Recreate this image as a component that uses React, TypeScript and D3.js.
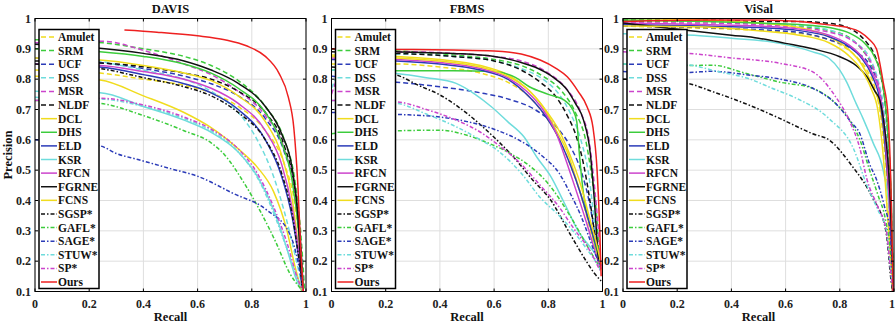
import React from 'react'
import * as d3 from 'd3'

type Pt = [number, number]

const titles = ['DAVIS', 'FBMS', 'ViSal']
const methods = ['Amulet', 'SRM', 'UCF', 'DSS', 'MSR', 'NLDF', 'DCL', 'DHS', 'ELD', 'KSR', 'RFCN', 'FGRNE', 'FCNS', 'SGSP*', 'GAFL*', 'SAGE*', 'STUW*', 'SP*', 'Ours']
const colors = ['#f0dc1e', '#3ccc3c', '#2b3bb8', '#6fdcdc', '#cc44cc', '#111', '#f0dc1e', '#3ccc3c', '#2b3bb8', '#6fdcdc', '#cc44cc', '#111', '#f0dc1e', '#111', '#3ccc3c', '#2b3bb8', '#6fdcdc', '#cc44cc', '#ee2020']
const styles = ['dash', 'dash', 'dash', 'dash', 'dash', 'dash', 'solid', 'solid', 'solid', 'solid', 'solid', 'solid', 'solid', 'dashdot', 'dashdot', 'dashdot', 'dashdot', 'dashdot', 'solid']
const xTicks = [0, 0.2, 0.4, 0.6, 0.8, 1]
const yTicks = [0.1, 0.2, 0.3, 0.4, 0.5, 0.6, 0.7, 0.8, 0.9, 1]

// recall, precision pairs
const davisCurves: Pt[][] = [
  [[0, 0.83], [0.24, 0.82], [0.4, 0.8], [0.55, 0.78], [0.65, 0.755], [0.75, 0.71], [0.85, 0.63], [0.92, 0.52], [0.96, 0.38], [0.98, 0.22], [0.99, 0.1]],
  [[0, 0.93], [0.25, 0.92], [0.4, 0.9], [0.55, 0.875], [0.65, 0.845], [0.75, 0.795], [0.85, 0.71], [0.92, 0.6], [0.96, 0.46], [0.98, 0.3], [0.995, 0.1]],
  [[0, 0.87], [0.24, 0.855], [0.4, 0.835], [0.55, 0.81], [0.65, 0.785], [0.75, 0.745], [0.85, 0.67], [0.92, 0.56], [0.96, 0.42], [0.98, 0.25], [0.99, 0.1]],
  [[0, 0.92], [0.24, 0.86], [0.4, 0.83], [0.55, 0.8], [0.65, 0.76], [0.75, 0.69], [0.82, 0.6], [0.88, 0.48], [0.93, 0.33], [0.97, 0.18], [0.99, 0.1]],
  [[0, 0.92], [0.25, 0.925], [0.4, 0.895], [0.55, 0.85], [0.65, 0.815], [0.75, 0.76], [0.85, 0.68], [0.92, 0.57], [0.96, 0.42], [0.98, 0.25], [0.99, 0.1]],
  [[0, 0.86], [0.3, 0.85], [0.45, 0.835], [0.55, 0.82], [0.65, 0.8], [0.75, 0.76], [0.85, 0.69], [0.92, 0.58], [0.96, 0.43], [0.98, 0.26], [0.99, 0.1]],
  [[0, 0.87], [0.24, 0.863], [0.4, 0.845], [0.55, 0.82], [0.65, 0.795], [0.75, 0.745], [0.85, 0.66], [0.91, 0.55], [0.95, 0.4], [0.975, 0.22], [0.99, 0.1]],
  [[0, 0.9], [0.24, 0.89], [0.4, 0.875], [0.55, 0.85], [0.65, 0.82], [0.75, 0.77], [0.85, 0.69], [0.91, 0.59], [0.95, 0.46], [0.975, 0.28], [0.99, 0.1]],
  [[0, 0.85], [0.24, 0.84], [0.4, 0.815], [0.55, 0.785], [0.65, 0.755], [0.75, 0.7], [0.85, 0.6], [0.91, 0.48], [0.95, 0.34], [0.975, 0.2], [0.99, 0.1]],
  [[0, 0.76], [0.24, 0.755], [0.4, 0.71], [0.55, 0.665], [0.65, 0.625], [0.75, 0.56], [0.82, 0.48], [0.88, 0.37], [0.93, 0.24], [0.96, 0.15], [0.985, 0.1]],
  [[0, 0.85], [0.24, 0.845], [0.4, 0.825], [0.55, 0.8], [0.65, 0.77], [0.75, 0.72], [0.85, 0.63], [0.91, 0.52], [0.95, 0.37], [0.975, 0.22], [0.99, 0.1]],
  [[0, 0.915], [0.2, 0.905], [0.4, 0.885], [0.55, 0.86], [0.65, 0.83], [0.75, 0.786], [0.85, 0.71], [0.91, 0.62], [0.95, 0.5], [0.97, 0.35], [0.985, 0.1]],
  [[0, 0.81], [0.24, 0.797], [0.4, 0.745], [0.55, 0.69], [0.65, 0.64], [0.75, 0.57], [0.82, 0.51], [0.88, 0.43], [0.93, 0.3], [0.96, 0.18], [0.985, 0.1]],
  [[0, 0.85], [0.24, 0.835], [0.4, 0.805], [0.55, 0.775], [0.65, 0.745], [0.75, 0.69], [0.85, 0.6], [0.91, 0.49], [0.95, 0.35], [0.975, 0.2], [0.99, 0.1]],
  [[0, 0.73], [0.24, 0.72], [0.4, 0.68], [0.55, 0.63], [0.65, 0.59], [0.7, 0.55], [0.77, 0.46], [0.84, 0.35], [0.89, 0.26], [0.94, 0.16], [0.98, 0.11], [0.99, 0.1]],
  [[0, 0.6], [0.24, 0.58], [0.3, 0.555], [0.38, 0.535], [0.5, 0.505], [0.6, 0.48], [0.73, 0.424], [0.856, 0.368], [0.94, 0.29], [0.97, 0.2], [0.99, 0.1]],
  [[0, 0.74], [0.24, 0.735], [0.4, 0.71], [0.55, 0.67], [0.65, 0.63], [0.75, 0.56], [0.83, 0.46], [0.88, 0.36], [0.93, 0.24], [0.97, 0.14], [0.99, 0.1]],
  [[0, 0.73], [0.24, 0.737], [0.4, 0.715], [0.55, 0.675], [0.65, 0.635], [0.75, 0.57], [0.82, 0.49], [0.88, 0.38], [0.93, 0.26], [0.97, 0.14], [0.99, 0.1]],
  [[0.33, 0.962], [0.45, 0.955], [0.6, 0.943], [0.7, 0.93], [0.78, 0.91], [0.85, 0.875], [0.9, 0.82], [0.935, 0.74], [0.955, 0.64], [0.97, 0.45], [0.98, 0.25], [0.99, 0.1]]
]

const fbmsCurves: Pt[][] = [
  [[0, 0.85], [0.24, 0.85], [0.4, 0.84], [0.55, 0.82], [0.65, 0.79], [0.72, 0.75], [0.78, 0.69], [0.83, 0.62], [0.88, 0.52], [0.92, 0.42], [0.95, 0.32], [0.98, 0.22], [0.995, 0.17]],
  [[0, 0.9], [0.24, 0.893], [0.45, 0.88], [0.6, 0.865], [0.7, 0.845], [0.78, 0.81], [0.85, 0.76], [0.9, 0.69], [0.94, 0.59], [0.96, 0.48], [0.98, 0.33], [0.99, 0.18]],
  [[0, 0.81], [0.1, 0.8], [0.24, 0.79], [0.4, 0.775], [0.55, 0.755], [0.65, 0.735], [0.75, 0.7], [0.83, 0.643], [0.88, 0.58], [0.92, 0.5], [0.95, 0.4], [0.97, 0.3], [0.99, 0.19]],
  [[0, 0.77], [0.05, 0.85], [0.15, 0.88], [0.3, 0.883], [0.45, 0.875], [0.6, 0.86], [0.7, 0.835], [0.78, 0.8], [0.84, 0.75], [0.88, 0.69], [0.92, 0.6], [0.95, 0.48], [0.97, 0.33], [0.99, 0.17]],
  [[0, 0.75], [0.05, 0.85], [0.15, 0.885], [0.3, 0.89], [0.45, 0.885], [0.6, 0.875], [0.7, 0.86], [0.8, 0.82], [0.87, 0.765], [0.92, 0.69], [0.95, 0.6], [0.97, 0.45], [0.985, 0.3], [0.995, 0.17]],
  [[0, 0.89], [0.24, 0.885], [0.45, 0.875], [0.6, 0.86], [0.7, 0.83], [0.77, 0.79], [0.83, 0.74], [0.87, 0.68], [0.9, 0.62], [0.93, 0.52], [0.95, 0.42], [0.97, 0.3], [0.99, 0.19]],
  [[0, 0.88], [0.24, 0.875], [0.4, 0.865], [0.55, 0.845], [0.65, 0.815], [0.72, 0.77], [0.78, 0.71], [0.83, 0.63], [0.87, 0.56], [0.91, 0.45], [0.94, 0.36], [0.97, 0.26], [0.99, 0.19]],
  [[0, 0.83], [0.24, 0.828], [0.45, 0.828], [0.6, 0.825], [0.68, 0.805], [0.73, 0.775], [0.8, 0.75], [0.86, 0.73], [0.89, 0.7], [0.905, 0.66], [0.915, 0.55], [0.93, 0.42], [0.96, 0.3], [0.99, 0.2]],
  [[0, 0.865], [0.24, 0.86], [0.4, 0.85], [0.55, 0.83], [0.65, 0.8], [0.72, 0.75], [0.78, 0.69], [0.83, 0.62], [0.88, 0.52], [0.92, 0.42], [0.95, 0.33], [0.98, 0.24], [0.995, 0.19]],
  [[0, 0.83], [0.1, 0.825], [0.24, 0.819], [0.35, 0.805], [0.46, 0.786], [0.53, 0.75], [0.59, 0.709], [0.65, 0.66], [0.71, 0.61], [0.76, 0.54], [0.81, 0.478], [0.86, 0.39], [0.91, 0.3], [0.96, 0.24], [0.995, 0.2]],
  [[0, 0.87], [0.24, 0.865], [0.4, 0.855], [0.55, 0.835], [0.65, 0.805], [0.72, 0.76], [0.78, 0.7], [0.83, 0.62], [0.87, 0.52], [0.9, 0.44], [0.94, 0.33], [0.97, 0.24], [0.99, 0.18]],
  [[0, 0.9], [0.24, 0.89], [0.45, 0.885], [0.6, 0.875], [0.7, 0.855], [0.75, 0.84], [0.82, 0.805], [0.87, 0.764], [0.9, 0.72], [0.93, 0.665], [0.955, 0.555], [0.97, 0.4], [0.985, 0.2]],
  [[0, 0.875], [0.24, 0.87], [0.4, 0.86], [0.55, 0.84], [0.65, 0.81], [0.72, 0.77], [0.78, 0.71], [0.84, 0.63], [0.88, 0.55], [0.92, 0.45], [0.95, 0.35], [0.98, 0.25], [0.995, 0.19]],
  [[0, 0.84], [0.12, 0.83], [0.24, 0.814], [0.32, 0.78], [0.4, 0.748], [0.5, 0.687], [0.586, 0.62], [0.67, 0.545], [0.74, 0.47], [0.81, 0.4], [0.88, 0.29], [0.94, 0.2], [0.97, 0.16], [0.995, 0.135]],
  [[0, 0.62], [0.1, 0.628], [0.24, 0.63], [0.4, 0.632], [0.5, 0.615], [0.59, 0.585], [0.66, 0.555], [0.73, 0.515], [0.8, 0.455], [0.88, 0.35], [0.95, 0.24], [0.99, 0.18]],
  [[0, 0.69], [0.24, 0.684], [0.4, 0.675], [0.5, 0.66], [0.6, 0.635], [0.7, 0.595], [0.78, 0.545], [0.84, 0.49], [0.88, 0.425], [0.92, 0.35], [0.95, 0.28], [0.975, 0.22], [0.995, 0.185]],
  [[0, 0.73], [0.24, 0.72], [0.35, 0.685], [0.46, 0.643], [0.55, 0.6], [0.62, 0.56], [0.7, 0.49], [0.77, 0.41], [0.84, 0.35], [0.9, 0.29], [0.95, 0.23], [0.99, 0.18]],
  [[0, 0.73], [0.24, 0.725], [0.35, 0.7], [0.46, 0.665], [0.55, 0.625], [0.62, 0.58], [0.7, 0.52], [0.77, 0.45], [0.83, 0.39], [0.9, 0.3], [0.95, 0.24], [0.99, 0.17]],
  [[0, 0.9], [0.24, 0.898], [0.45, 0.896], [0.6, 0.893], [0.7, 0.883], [0.77, 0.863], [0.83, 0.835], [0.87, 0.808], [0.91, 0.76], [0.943, 0.709], [0.965, 0.64], [0.98, 0.5], [0.99, 0.3], [0.995, 0.15]]
]

const visalCurves: Pt[][] = [
  [[0, 0.975], [0.2, 0.97], [0.4, 0.965], [0.6, 0.955], [0.72, 0.94], [0.8, 0.915], [0.86, 0.875], [0.9, 0.83], [0.93, 0.77], [0.955, 0.65], [0.975, 0.45], [0.99, 0.2], [0.997, 0.1]],
  [[0, 0.99], [0.3, 0.99], [0.5, 0.985], [0.65, 0.975], [0.76, 0.96], [0.83, 0.94], [0.88, 0.9], [0.92, 0.84], [0.95, 0.75], [0.97, 0.6], [0.985, 0.4], [0.997, 0.1]],
  [[0, 0.975], [0.3, 0.97], [0.5, 0.963], [0.64, 0.955], [0.76, 0.93], [0.86, 0.89], [0.91, 0.846], [0.948, 0.758], [0.97, 0.62], [0.985, 0.4], [0.997, 0.1]],
  [[0, 0.995], [0.2, 0.998], [0.4, 0.99], [0.6, 0.98], [0.72, 0.97], [0.8, 0.95], [0.86, 0.92], [0.91, 0.87], [0.94, 0.8], [0.965, 0.68], [0.98, 0.5], [0.993, 0.25], [0.998, 0.1]],
  [[0, 0.985], [0.3, 0.985], [0.5, 0.98], [0.65, 0.97], [0.76, 0.955], [0.84, 0.93], [0.89, 0.89], [0.93, 0.82], [0.955, 0.72], [0.975, 0.55], [0.99, 0.3], [0.998, 0.1]],
  [[0, 0.995], [0.3, 0.995], [0.5, 0.99], [0.65, 0.99], [0.76, 0.984], [0.83, 0.97], [0.874, 0.945], [0.9, 0.92], [0.923, 0.89], [0.948, 0.824], [0.97, 0.7], [0.985, 0.5], [0.998, 0.1]],
  [[0, 1.0], [0.3, 0.995], [0.5, 0.985], [0.65, 0.97], [0.76, 0.94], [0.83, 0.9], [0.88, 0.85], [0.92, 0.78], [0.95, 0.7], [0.97, 0.55], [0.985, 0.35], [0.995, 0.1]],
  [[0, 0.995], [0.3, 0.99], [0.5, 0.985], [0.65, 0.98], [0.76, 0.97], [0.84, 0.95], [0.89, 0.92], [0.93, 0.87], [0.955, 0.8], [0.975, 0.65], [0.99, 0.4], [0.998, 0.1]],
  [[0, 0.98], [0.3, 0.975], [0.5, 0.97], [0.65, 0.96], [0.76, 0.94], [0.83, 0.91], [0.88, 0.87], [0.92, 0.81], [0.95, 0.72], [0.97, 0.55], [0.985, 0.35], [0.997, 0.1]],
  [[0, 0.95], [0.235, 0.946], [0.4, 0.935], [0.58, 0.918], [0.7, 0.89], [0.76, 0.869], [0.8, 0.83], [0.825, 0.791], [0.86, 0.72], [0.886, 0.67], [0.923, 0.59], [0.96, 0.5], [0.985, 0.35], [0.997, 0.1]],
  [[0, 0.985], [0.3, 0.98], [0.5, 0.975], [0.65, 0.965], [0.76, 0.945], [0.83, 0.915], [0.88, 0.875], [0.92, 0.82], [0.95, 0.74], [0.97, 0.58], [0.985, 0.35], [0.997, 0.1]],
  [[0, 0.985], [0.1, 0.975], [0.25, 0.96], [0.4, 0.945], [0.5, 0.935], [0.6, 0.918], [0.7, 0.9], [0.8, 0.874], [0.86, 0.845], [0.9, 0.808], [0.93, 0.76], [0.948, 0.73], [0.965, 0.64], [0.98, 0.5], [0.99, 0.3], [0.995, 0.1]],
  [[0, 0.975], [0.3, 0.972], [0.5, 0.96], [0.65, 0.945], [0.76, 0.92], [0.83, 0.88], [0.88, 0.83], [0.915, 0.77], [0.94, 0.7], [0.96, 0.55], [0.98, 0.3], [0.995, 0.1]],
  [[0, 0.8], [0.235, 0.786], [0.333, 0.758], [0.45, 0.72], [0.58, 0.67], [0.7, 0.62], [0.76, 0.6], [0.84, 0.52], [0.92, 0.41], [0.97, 0.3], [0.99, 0.13], [0.995, 0.1]],
  [[0, 0.85], [0.235, 0.845], [0.33, 0.846], [0.45, 0.82], [0.58, 0.79], [0.7, 0.77], [0.79, 0.715], [0.84, 0.66], [0.874, 0.6], [0.91, 0.5], [0.94, 0.42], [0.97, 0.33], [0.99, 0.2], [0.997, 0.1]],
  [[0, 0.825], [0.235, 0.822], [0.33, 0.826], [0.45, 0.815], [0.58, 0.8], [0.7, 0.77], [0.79, 0.715], [0.84, 0.66], [0.874, 0.62], [0.91, 0.52], [0.935, 0.47], [0.965, 0.38], [0.985, 0.3], [0.997, 0.1]],
  [[0, 0.85], [0.235, 0.847], [0.35, 0.825], [0.46, 0.803], [0.55, 0.77], [0.64, 0.737], [0.76, 0.67], [0.85, 0.572], [0.9, 0.45], [0.94, 0.37], [0.972, 0.3], [0.99, 0.15], [0.997, 0.1]],
  [[0, 0.89], [0.235, 0.885], [0.4, 0.87], [0.58, 0.852], [0.7, 0.824], [0.78, 0.748], [0.837, 0.66], [0.874, 0.572], [0.9, 0.47], [0.94, 0.38], [0.972, 0.3], [0.99, 0.15], [0.997, 0.1]],
  [[0, 0.99], [0.3, 0.995], [0.5, 0.995], [0.65, 0.99], [0.76, 0.979], [0.83, 0.97], [0.874, 0.956], [0.91, 0.93], [0.935, 0.9], [0.96, 0.79], [0.978, 0.68], [0.99, 0.4], [0.997, 0.1]]
]

const allCurves = [davisCurves, fbmsCurves, visalCurves]

const W = 895
const H = 329
const panelLefts = [35, 331.5, 623]
const panelW = 271
const top = 18.5
const bottom = 291.5
const font = '"Liberation Serif", "Times New Roman", serif'

function dashFor(s: string) {
  if (s === 'dash') return '5,3'
  if (s === 'dashdot') return '4,2,1.5,2'
  return undefined
}

function Panel({ idx }: { idx: number }) {
  const left = panelLefts[idx]
  const x = d3.scaleLinear().domain([0, 1]).range([left, left + panelW])
  const y = d3.scaleLinear().domain([0.1, 1]).range([bottom, top])
  const line = d3
    .line<Pt>()
    .curve(d3.curveMonotoneX)
    .x(d => x(d[0]))
    .y(d => y(d[1]))
  const curves = allCurves[idx]
  const clipId = `clip${idx}`
  const legX = left + 4
  const legY = 29.5
  const legH = 259
  const step = (legH - 14) / (methods.length - 1)

  return (
    <g>
      <defs>
        <clipPath id={clipId}>
          <rect x={x(0)} y={top} width={panelW} height={bottom - top} />
        </clipPath>
      </defs>
      <rect x={x(0)} y={top} width={panelW} height={bottom - top} fill="#fff" />
      {xTicks.map(t => (
        <line key={'gx' + t} x1={x(t)} x2={x(t)} y1={top} y2={bottom} stroke="#dedede" strokeWidth={1} />
      ))}
      {yTicks.map(t => (
        <line key={'gy' + t} x1={x(0)} x2={x(1)} y1={y(t)} y2={y(t)} stroke="#dedede" strokeWidth={1} />
      ))}
      <g clipPath={`url(#${clipId})`}>
        {curves.map((c, i) => (
          <path
            key={methods[i]}
            d={line(c) || ''}
            fill="none"
            stroke={colors[i]}
            strokeWidth={1.5}
            strokeDasharray={dashFor(styles[i])}
          />
        ))}
      </g>
      {/* legend */}
      <rect x={legX} y={legY} width={60} height={legH} fill="#fff" stroke="#000" strokeWidth={1.5} />
      {methods.map((m, i) => {
        const ly = legY + 7.5 + i * step
        return (
          <g key={'l' + m}>
            <line
              x1={legX + 2}
              x2={legX + 18}
              y1={ly}
              y2={ly}
              stroke={colors[i]}
              strokeWidth={1.5}
              strokeDasharray={dashFor(styles[i])}
            />
            <text x={legX + 19} y={ly + 4} fontFamily={font} fontWeight="bold" fontSize={11.5} fill="#111">
              {m}
            </text>
          </g>
        )
      })}
      {/* axes box and ticks */}
      <rect x={x(0)} y={top} width={panelW} height={bottom - top} fill="none" stroke="#000" strokeWidth={1} />
      {xTicks.map(t => {
        const edge = x(t) + 4 > W
        return (
          <g key={'tx' + t}>
            <line x1={x(t)} x2={x(t)} y1={bottom} y2={bottom - 3} stroke="#000" />
            <line x1={x(t)} x2={x(t)} y1={top} y2={top + 3} stroke="#000" />
            <text
              x={edge ? W : x(t)}
              y={bottom + 16}
              textAnchor={edge ? 'end' : 'middle'}
              fontFamily={font}
              fontWeight="bold"
              fontSize={12}
              fill="#222"
            >
              {d3.format('~g')(t)}
            </text>
          </g>
        )
      })}
      {yTicks.map(t => (
        <g key={'ty' + t}>
          <line x1={x(0)} x2={x(0) + 3} y1={y(t)} y2={y(t)} stroke="#000" />
          <line x1={x(1)} x2={x(1) - 3} y1={y(t)} y2={y(t)} stroke="#000" />
          <text x={x(0) - 4} y={y(t) + 4} textAnchor="end" fontFamily={font} fontWeight="bold" fontSize={12} fill="#222">
            {d3.format('~g')(t)}
          </text>
        </g>
      ))}
      <text x={x(0.5)} y={13} textAnchor="middle" fontFamily={font} fontWeight="bold" fontSize={12.5} fill="#111">
        {titles[idx]}
      </text>
      <text x={x(0.5)} y={321} textAnchor="middle" fontFamily={font} fontWeight="bold" fontSize={12.5} fill="#111">
        Recall
      </text>
      {idx === 0 && (
        <text
          transform={`translate(12,${(top + bottom) / 2}) rotate(-90)`}
          textAnchor="middle"
          fontFamily={font}
          fontWeight="bold"
          fontSize={12.5}
          fill="#111"
        >
          Precision
        </text>
      )}
    </g>
  )
}

export default function App() {
  return (
    <svg width={W} height={H} style={{ position: 'absolute', left: 0, top: 0, background: '#fff' }}>
      <rect x={0} y={0} width={W} height={H} fill="#fff" />
      {[0, 1, 2].map(i => (
        <Panel key={i} idx={i} />
      ))}
    </svg>
  )
}
